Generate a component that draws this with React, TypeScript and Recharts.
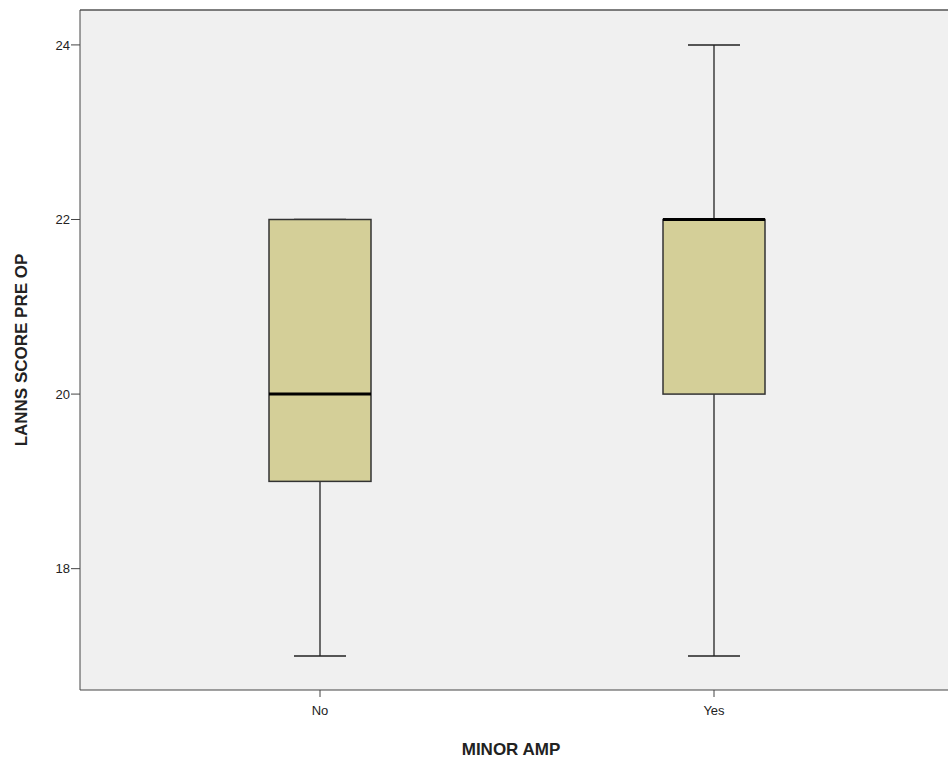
import { ComposedChart, Bar, XAxis, YAxis, CartesianGrid, ReferenceLine } from 'recharts';

const groups = ['No', 'Yes'];
const minVals = [17, 17];
const q1Vals = [19, 20];
const medianVals = [20, 22];
const q3Vals = [22, 22];
const maxVals = [22, 24];
const yTicks = [18, 20, 22, 24];
const yDomain = [16.61, 24.4];

const data = groups.map((g, i) => ({
  group: g,
  min: minVals[i],
  q1: q1Vals[i],
  median: medianVals[i],
  q3: q3Vals[i],
  max: maxVals[i],
}));

const font = '"Liberation Sans", Arial, sans-serif';

// one range bar per group spans min..max; the shape turns it into a box + whiskers
const BoxShape = (props: any) => {
  const { x, y, width, height, payload } = props;
  const top = Math.min(y, y + height);
  const h = Math.abs(height);
  const lo = payload.min;
  const hi = payload.max;
  const py = (v: number) => top + ((hi - v) / (hi - lo)) * h;
  const cx = x + width / 2;
  const capW = width * 0.51;
  return (
    <g>
      <line x1={cx} x2={cx} y1={py(hi)} y2={py(payload.q3)} stroke="#222" strokeWidth={1.3} />
      <line x1={cx} x2={cx} y1={py(payload.q1)} y2={py(lo)} stroke="#222" strokeWidth={1.3} />
      <line x1={cx - capW / 2} x2={cx + capW / 2} y1={py(hi)} y2={py(hi)} stroke="#222" strokeWidth={1.5} />
      <line x1={cx - capW / 2} x2={cx + capW / 2} y1={py(lo)} y2={py(lo)} stroke="#222" strokeWidth={1.5} />
      <rect x={x} y={py(payload.q3)} width={width} height={py(payload.q1) - py(payload.q3)} fill="#d4cf98" stroke="#333" strokeWidth={1.5} />
      <line x1={x} x2={x + width} y1={py(payload.median)} y2={py(payload.median)} stroke="#000" strokeWidth={3} />
    </g>
  );
};

export default function App() {
  return (
    <div style={{ position: 'absolute', left: 0, top: 0, background: '#fff' }}>
      <ComposedChart width={948} height={762} data={data} margin={{ top: 10, right: 0, bottom: 0, left: 0 }}>
        <CartesianGrid horizontal={false} vertical={false} fill="#f0f0f0" />
        <XAxis
          dataKey="group"
          padding={{ left: 43, right: 37 }}
          height={72}
          stroke="#444"
          tickSize={7}
          tickMargin={9}
          tick={{ fill: '#222', fontSize: 13, fontFamily: font }}
          label={{ value: 'MINOR AMP', position: 'insideBottom', offset: 7, fill: '#222', fontSize: 17, fontWeight: 'bold', fontFamily: font, dx: -3 }}
        />
        <YAxis
          type="number"
          domain={yDomain}
          ticks={yTicks}
          allowDataOverflow
          width={80}
          stroke="#444"
          tickSize={9}
          tickMargin={1}
          tick={{ fill: '#222', fontSize: 13, fontFamily: font }}
          label={{ value: 'LANNS SCORE PRE OP', angle: -90, position: 'insideLeft', offset: 21, fill: '#222', fontSize: 17, fontWeight: 'bold', fontFamily: font, style: { textAnchor: 'middle' } }}
        />
        <ReferenceLine y={yDomain[1]} stroke="#555" strokeWidth={1.5} />
        <Bar dataKey={(d: any) => [d.min, d.max]} barSize={102} shape={BoxShape} isAnimationActive={false} />
      </ComposedChart>
    </div>
  );
}
